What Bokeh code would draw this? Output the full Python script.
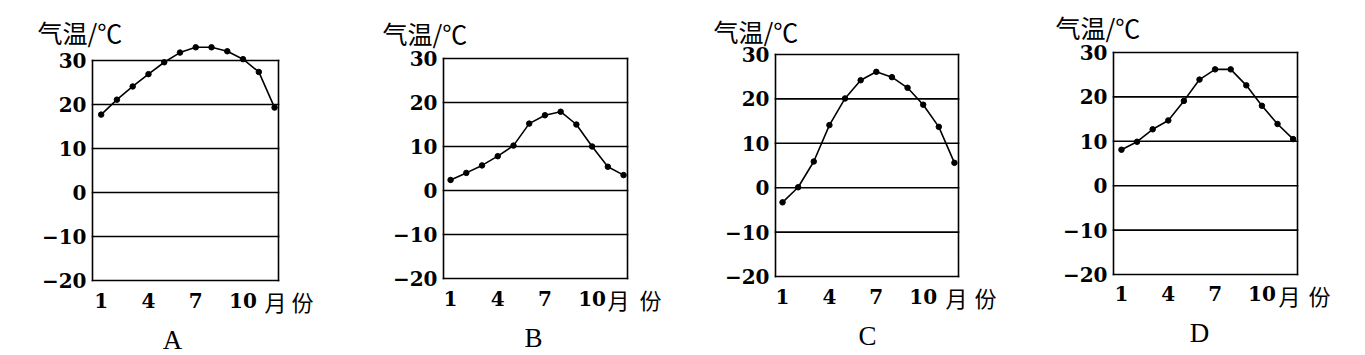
from bokeh.plotting import figure
from bokeh.layouts import row
from bokeh.models import Range1d
from bokeh.core.properties import value
from bokeh.embed import file_html
from bokeh.resources import INLINE

# ---- data ----
months = list(range(1, 13))
temp_a = [17.7, 21.1, 24.1, 26.9, 29.6, 31.8, 33.0, 33.0, 32.1, 30.3, 27.4, 19.3]
temp_b = [2.4, 4.0, 5.7, 7.8, 10.2, 15.2, 17.1, 17.9, 15.0, 10.0, 5.4, 3.5]
temp_c = [-3.3, 0.1, 5.9, 14.1, 20.1, 24.2, 26.1, 24.9, 22.5, 18.7, 13.7, 5.6]
temp_d = [8.1, 9.9, 12.7, 14.7, 19.1, 23.9, 26.2, 26.2, 22.6, 18.0, 13.9, 10.5]
panel_names = ["A", "B", "C", "D"]
x_ticks = [1, 4, 7, 10]
y_ticks = [-20, -10, 0, 10, 20, 30]
y_title = "气温/℃"
x_unit = ["月", "份"]

# ---- layout (page pixel positions) ----
panels = [
    dict(t=temp_a, fl=92, ft=60, fw=186, fh=220, xs=0.45, xe=12.25, cl=0, cr=330,
         title=(37, 31), yue=(275, 300), fen=(302, 300), letter=(172, 339), xlab=300),
    dict(t=temp_b, fl=443, ft=58, fw=184, fh=220, xs=0.55, xe=12.25, cl=330, cr=680,
         title=(382, 32), yue=(618, 298), fen=(650, 298), letter=(533, 337), xlab=298),
    dict(t=temp_c, fl=775, ft=54, fw=183, fh=222, xs=0.55, xe=12.26, cl=680, cr=1020,
         title=(713, 30), yue=(956, 296), fen=(985, 296), letter=(867, 335), xlab=296),
    dict(t=temp_d, fl=1113, ft=52, fw=184, fh=222, xs=0.49, xe=12.28, cl=1020, cr=1360,
         title=(1055, 26), yue=(1289, 294), fen=(1319, 294), letter=(1199, 332), xlab=293),
]

H = 355
SERIF = "Liberation Serif"
TICK_FONT = "DejaVu Serif"
CJK = "Noto Sans CJK SC"
Y_LO, Y_HI = y_ticks[0], y_ticks[-1]

figs = []
for name, cfg in zip(panel_names, panels):
    fl, ft, fw, fh = cfg["fl"], cfg["ft"], cfg["fw"], cfg["fh"]
    xs, xe, cl, cr = cfg["xs"], cfg["xe"], cfg["cl"], cfg["cr"]
    ppm = fw / (xe - xs)
    ppu = fh / float(Y_HI - Y_LO)

    def dx(px):
        return xs + (px - fl) / ppm

    def dy(py):
        return Y_HI - (py - ft) / ppu

    p = figure(width=cr - cl, height=H, min_border=0,
               x_range=Range1d(dx(cl), dx(cr)), y_range=Range1d(dy(H), dy(0)),
               x_axis_location=None, y_axis_location=None,
               output_backend="svg", toolbar_location=None,
               background_fill_color="white", border_fill_color="white")
    p.outline_line_color = None
    p.grid.visible = False

    # box + horizontal grid lines at every y tick
    p.segment(x0=[xs] * len(y_ticks), y0=y_ticks, x1=[xe] * len(y_ticks), y1=y_ticks,
              line_color="black", line_width=1.6, line_cap="square")
    p.segment(x0=[xs, xe], y0=[Y_LO, Y_LO], x1=[xs, xe], y1=[Y_HI, Y_HI],
              line_color="black", line_width=1.6, line_cap="square")

    # tick labels
    y_labels = [str(v).replace("-", "\u2212") for v in y_ticks]
    p.text(x=[dx(fl - 6)] * len(y_ticks), y=y_ticks, text=y_labels,
           text_align="right", text_baseline="middle", text_font=value(TICK_FONT),
           text_font_style="bold", text_font_size="20px", text_color="black")
    p.text(x=x_ticks, y=[dy(cfg["xlab"])] * len(x_ticks), text=[str(v) for v in x_ticks],
           text_align="center", text_baseline="middle", text_font=value(TICK_FONT),
           text_font_style="bold", text_font_size="20px", text_color="black")

    # series
    p.line(months, cfg["t"], line_color="black", line_width=1.6)
    p.scatter(months, cfg["t"], size=5.5, fill_color="black", line_color="black")

    # axis title, unit, panel letter
    tx, ty = cfg["title"]
    p.text(x=[dx(tx)], y=[dy(ty)], text=[y_title], text_font=value(CJK),
           text_font_size="25px", text_align="left", text_baseline="middle",
           text_color="black")
    ux = [dx(cfg["yue"][0]), dx(cfg["fen"][0])]
    uy = [dy(cfg["yue"][1]), dy(cfg["fen"][1])]
    p.text(x=ux, y=uy, text=x_unit, text_font=value(CJK), text_font_size="22px",
           text_align="center", text_baseline="middle", text_color="black")
    lx, ly = cfg["letter"]
    p.text(x=[dx(lx)], y=[dy(ly)], text=[name], text_font=value(SERIF),
           text_font_size="27px", text_align="center", text_baseline="middle",
           text_color="black")
    figs.append(p)

layout = row(*figs, spacing=0)
open("out.html", "w").write(file_html(layout, INLINE))
